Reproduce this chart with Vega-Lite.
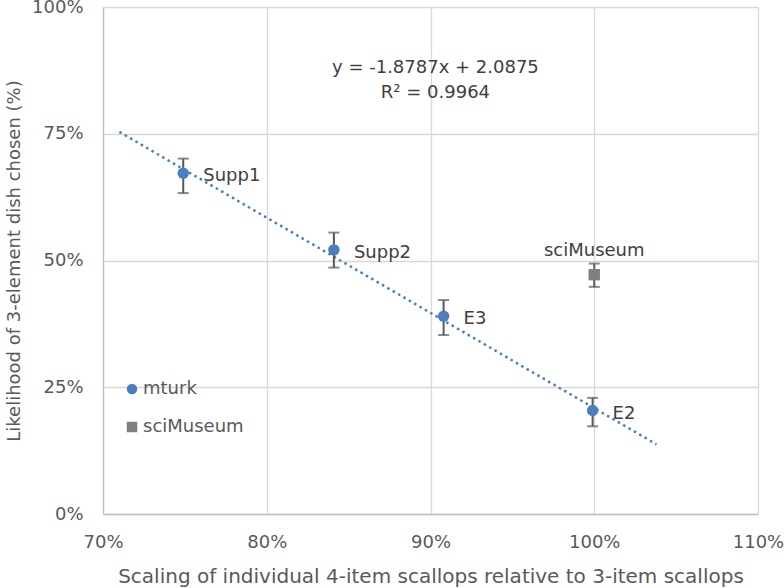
{
  "$schema": "https://vega.github.io/schema/vega-lite/v6.json",
  "width": 655,
  "height": 507,
  "autosize": "none",
  "padding": {"left": 103, "top": 7, "right": 26, "bottom": 74},
  "background": "white",
  "config": {
    "font": "DejaVu Sans",
    "view": {"stroke": null},
    "axis": {
      "labelFont": "DejaVu Sans",
      "labelFontSize": 18,
      "labelColor": "#595959",
      "labelFlush": false,
      "labelOverlap": false,
      "titleFont": "DejaVu Sans",
      "titleFontSize": 18,
      "titleFontWeight": "normal",
      "titleColor": "#595959",
      "gridColor": "#d9d9d9",
      "gridWidth": 1.3,
      "domainColor": "#bfbfbf",
      "domainWidth": 1.3,
      "ticks": false,
      "tickSize": 0
    }
  },
  "datasets": {
    "pts": [
      {"label": "Supp1", "series": "mturk", "x": 0.749, "y": 0.672, "lo": 0.633, "hi": 0.701},
      {"label": "Supp2", "series": "mturk", "x": 0.841, "y": 0.521, "lo": 0.486, "hi": 0.555},
      {"label": "E3", "series": "mturk", "x": 0.908, "y": 0.39, "lo": 0.353, "hi": 0.422},
      {"label": "E2", "series": "mturk", "x": 0.999, "y": 0.204, "lo": 0.173, "hi": 0.229},
      {"label": "sciMuseum", "series": "sciMuseum", "x": 1.0, "y": 0.472, "lo": 0.448, "hi": 0.494}
    ],
    "trend": [
      {"x": 0.71, "y": 0.7536},
      {"x": 1.038, "y": 0.1374}
    ],
    "eq": [
      {"x": 0.903, "y": 0.88, "t": "y = -1.8787x + 2.0875"},
      {"x": 0.903, "y": 0.83, "t": "R² = 0.9964"}
    ]
  },
  "layer": [
    {
      "data": {"name": "trend"},
      "mark": {"type": "line", "color": "#4a7ebf", "strokeWidth": 2.5, "strokeDash": [2.5, 3.7]},
      "encoding": {
        "x": {"field": "x", "type": "quantitative", "scale": {"domain": [0.7, 1.1], "nice": false, "zero": false},
          "axis": {"values": [0.7, 0.8, 0.9, 1.0, 1.1], "format": ".0%", "labelPadding": 19, "titlePadding": 15, "titleFontSize": 20,
            "title": "Scaling of individual 4-item scallops relative to 3-item scallops"}},
        "y": {"field": "y", "type": "quantitative", "scale": {"domain": [0, 1], "nice": false},
          "axis": {"values": [0, 0.25, 0.5, 0.75, 1], "format": ".0%", "labelPadding": 20, "titlePadding": 8,
            "title": "Likelihood of 3-element dish chosen (%)"}}
      }
    },
    {
      "data": {"name": "pts"},
      "mark": {"type": "rule", "color": "#595959", "strokeWidth": 2},
      "encoding": {
        "x": {"field": "x", "type": "quantitative"},
        "y": {"field": "lo", "type": "quantitative"},
        "y2": {"field": "hi"}
      }
    },
    {
      "data": {"name": "pts"},
      "transform": [{"fold": ["lo", "hi"], "as": ["k", "v"]}],
      "mark": {"type": "tick", "orient": "horizontal", "color": "#595959", "size": 11, "thickness": 2},
      "encoding": {
        "x": {"field": "x", "type": "quantitative"},
        "y": {"field": "v", "type": "quantitative"}
      }
    },
    {
      "data": {"name": "pts"},
      "mark": {"type": "point", "filled": true, "opacity": 1, "size": 130},
      "encoding": {
        "x": {"field": "x", "type": "quantitative"},
        "y": {"field": "y", "type": "quantitative"},
        "color": {"field": "series", "type": "nominal",
          "scale": {"domain": ["mturk", "sciMuseum"], "range": ["#4a7ebf", "#7f7f7f"]},
          "legend": {"title": null, "orient": "none", "legendX": 20, "legendY": 373,
            "labelFont": "DejaVu Sans", "labelFontSize": 18, "labelColor": "#595959",
            "symbolSize": 110, "symbolOpacity": 1, "rowPadding": 20, "labelOffset": 2, "padding": 0}},
        "shape": {"field": "series", "type": "nominal",
          "scale": {"domain": ["mturk", "sciMuseum"], "range": ["circle", "square"]}}
      }
    },
    {
      "data": {"name": "pts"},
      "transform": [{"filter": "datum.series == 'mturk'"}],
      "mark": {"type": "text", "align": "left", "baseline": "middle", "dx": 20, "dy": 3, "fontSize": 18, "color": "#404040"},
      "encoding": {
        "x": {"field": "x", "type": "quantitative"},
        "y": {"field": "y", "type": "quantitative"},
        "text": {"field": "label"}
      }
    },
    {
      "data": {"name": "pts"},
      "transform": [{"filter": "datum.series == 'sciMuseum'"}],
      "mark": {"type": "text", "align": "center", "baseline": "middle", "dy": -24, "fontSize": 18, "color": "#404040"},
      "encoding": {
        "x": {"field": "x", "type": "quantitative"},
        "y": {"field": "y", "type": "quantitative"},
        "text": {"field": "label"}
      }
    },
    {
      "data": {"name": "eq"},
      "mark": {"type": "text", "align": "center", "baseline": "middle", "fontSize": 18, "color": "#404040"},
      "encoding": {
        "x": {"field": "x", "type": "quantitative"},
        "y": {"field": "y", "type": "quantitative"},
        "text": {"field": "t"}
      }
    }
  ]
}
